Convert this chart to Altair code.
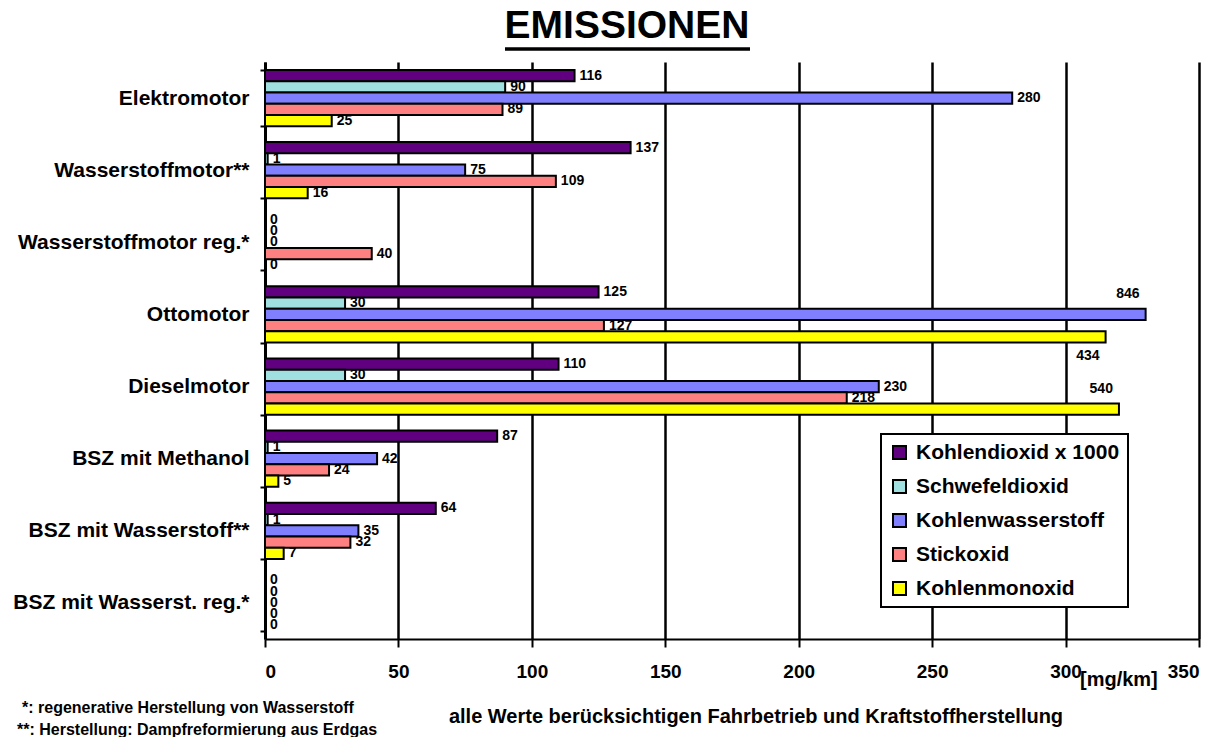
import altair as alt
import pandas as pd

categories = ["Elektromotor", "Wasserstoffmotor**", "Wasserstoffmotor reg.*", "Ottomotor",
              "Dieselmotor", "BSZ mit Methanol", "BSZ mit Wasserstoff**", "BSZ mit Wasserst. reg.*"]
series = ["Kohlendioxid x 1000", "Schwefeldioxid", "Kohlenwasserstoff", "Stickoxid", "Kohlenmonoxid"]
colors = ["#600080", "#A0E0E0", "#8080FF", "#FF8080", "#FFFF00"]

co2 = [116, 137, 0, 125, 110, 87, 64, 0]
so2 = [90, 1, 0, 30, 30, 1, 1, 0]
hc = [280, 75, 0, 846, 230, 42, 35, 0]
nox = [89, 109, 40, 127, 218, 24, 32, 0]
co = [25, 16, 0, 434, 540, 5, 7, 0]

# the reference cuts the very long bars short at the right edge of the plot
hc_drawn = [280, 75, 0, 330, 230, 42, 35, 0]
co_drawn = [25, 16, 0, 315, 320, 5, 7, 0]

# labels of the cut bars sit above / below the bar end
label_side = {("Ottomotor", "Kohlenwasserstoff"): "above",
              ("Ottomotor", "Kohlenmonoxid"): "below",
              ("Dieselmotor", "Kohlenmonoxid"): "above"}

x_ticks = [0, 50, 100, 150, 200, 250, 300, 350]
title_text = "EMISSIONEN"
unit_text = "[mg/km]"
footnotes = ["*: regenerative Herstellung von Wasserstoff",
             "**: Herstellung: Dampfreformierung aus Erdgas"]
note_text = "alle Werte berücksichtigen Fahrbetrieb und Kraftstoffherstellung"

values = [co2, so2, hc, nox, co]
drawn = [co2, so2, hc_drawn, nox, co_drawn]
rows = []
for ci, cat in enumerate(categories):
    for si, ser in enumerate(series):
        rows.append({"cat": cat, "ser": ser, "val": values[si][ci], "len": drawn[si][ci],
                     "side": label_side.get((cat, ser), "right")})
df = pd.DataFrame(rows)

FONT = "Liberation Sans"

y_enc = alt.Y("cat:N", sort=categories,
              scale=alt.Scale(paddingInner=0.22, paddingOuter=0.11),
              axis=alt.Axis(title=None, grid=False, tickBand="extent", tickSize=5,
                            labelPadding=11, labelFontSize=21, labelFont=FONT,
                            labelFontWeight="bold", labelLimit=400, domainWidth=3, tickWidth=2))
yoff_enc = alt.YOffset("ser:N", sort=series, scale=alt.Scale(paddingInner=0, paddingOuter=0))
x_scale = alt.Scale(domain=[0, 350], nice=False)

base = alt.Chart(df)

bars = base.mark_bar(stroke="black", strokeWidth=2).encode(
    x=alt.X("len:Q", scale=x_scale,
            axis=alt.Axis(title=None, values=x_ticks, format="d", grid=True, tickSize=8,
                          labelPadding=15, labelFontSize=19, labelFont=FONT,
                          labelFontWeight="bold", domainWidth=2, tickWidth=2,
                          gridColor="black", gridWidth=2.5, gridOpacity=1)),
    y=y_enc,
    yOffset=yoff_enc,
    color=alt.Color("ser:N", sort=series, scale=alt.Scale(domain=series, range=colors),
                    legend=alt.Legend(orient="none", legendX=616, legendY=372, title=None,
                                      labelFont=FONT, labelFontSize=21, labelFontWeight="bold",
                                      labelColor="black", labelLimit=400,
                                      symbolType="square", symbolSize=169,
                                      symbolStrokeColor="black", symbolStrokeWidth=2,
                                      symbolOpacity=1, fillColor="white", strokeColor="black",
                                      padding=8, rowPadding=12, labelOffset=6)),
)

lab_style = dict(font=FONT, fontSize=14, fontWeight="bold", color="black", baseline="middle")
lab_right = base.transform_filter(alt.datum.side == "right").mark_text(
    align="left", dx=5, **lab_style).encode(
    x=alt.X("len:Q", scale=x_scale), y=alt.Y("cat:N", sort=categories), yOffset=yoff_enc,
    text="val:Q")
lab_above = base.transform_filter(alt.datum.side == "above").mark_text(
    align="right", dx=-6, dy=-20, **lab_style).encode(
    x=alt.X("len:Q", scale=x_scale), y=alt.Y("cat:N", sort=categories), yOffset=yoff_enc,
    text="val:Q")
lab_below = base.transform_filter(alt.datum.side == "below").mark_text(
    align="right", dx=-6, dy=19, **lab_style).encode(
    x=alt.X("len:Q", scale=x_scale), y=alt.Y("cat:N", sort=categories), yOffset=yoff_enc,
    text="val:Q")

def free_text(txt, x, y, size, align, baseline="middle"):
    return alt.Chart(pd.DataFrame({"t": [txt]})).mark_text(
        font=FONT, fontSize=size, fontWeight="bold", color="black", align=align,
        baseline=baseline).encode(x=alt.value(x), y=alt.value(y), text="t:N")

title = free_text(title_text, 362, -24, 39, "center", "alphabetic")
underline = alt.Chart(pd.DataFrame({"a": [0]})).mark_rule(color="black", strokeWidth=3.5).encode(
    x=alt.value(240), x2=alt.value(485), y=alt.value(-13))
unit = free_text(unit_text, 815, 618, 20, "left")
foot1 = free_text(footnotes[0], -243, 646, 16, "left")
foot2 = free_text(footnotes[1], -248, 668, 16, "left")
note = free_text(note_text, 491, 655, 20, "center")

chart = alt.layer(bars, lab_right, lab_above, lab_below, title, underline, unit,
                  foot1, foot2, note).properties(
    width=934, height=577,
    autosize=alt.AutoSizeParams(type="none"),
    padding={"left": 265, "top": 62, "right": 26, "bottom": 98},
).configure_view(strokeWidth=0).configure_axis(
    domainColor="black", tickColor="black", labelColor="black"
).configure_legend(strokeWidth=2)

chart.save("out.html", embed_options={"renderer": "svg", "actions": False})
